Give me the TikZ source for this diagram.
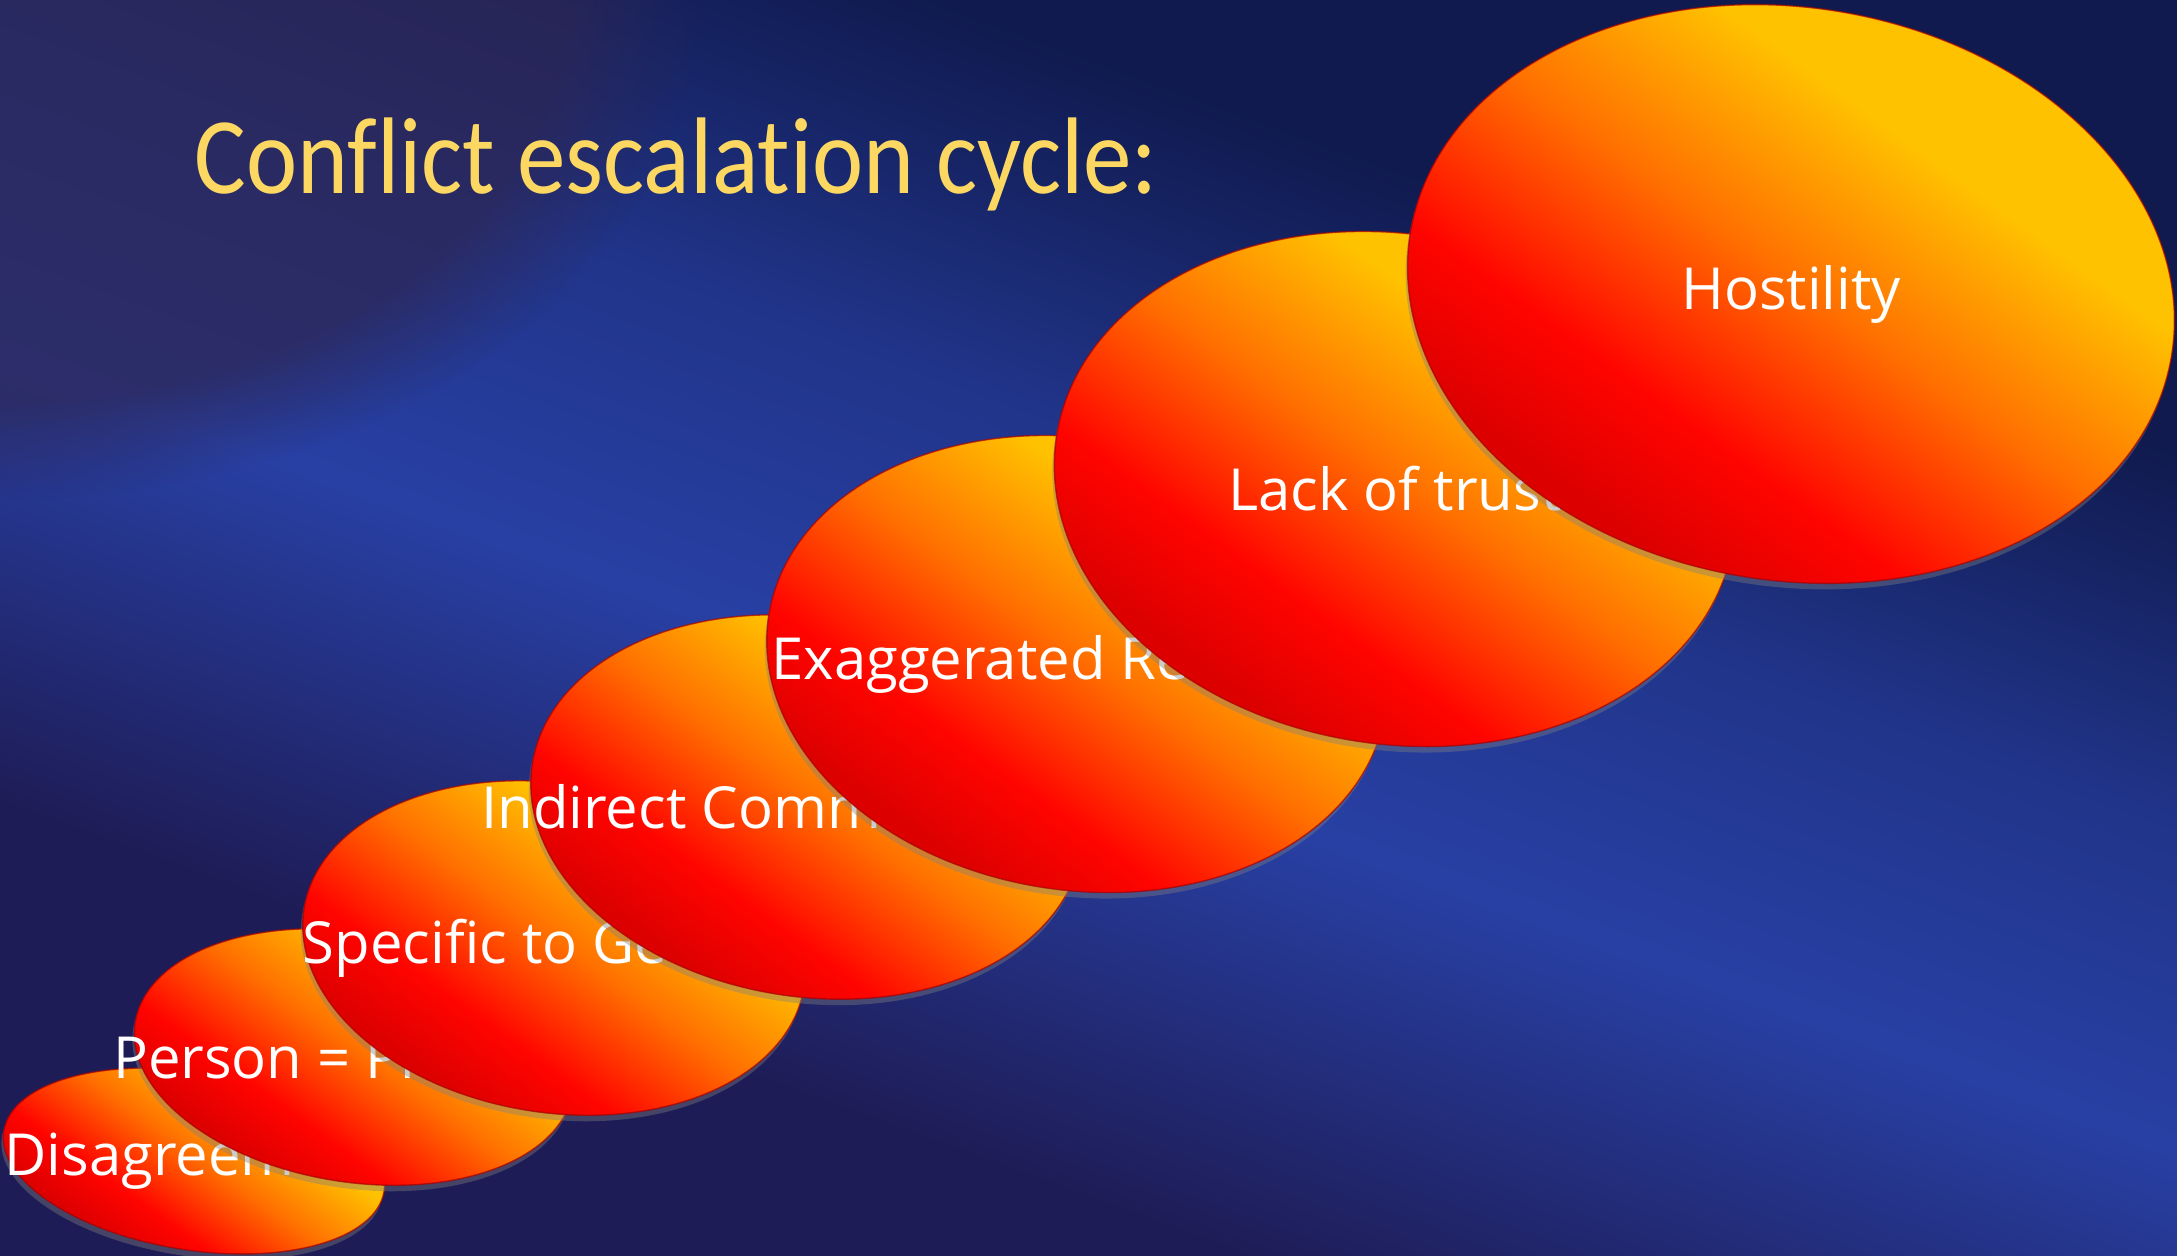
\documentclass[tikz,border=0pt]{standalone}
\usepackage{fontspec}
\setmainfont{Open Sans}
\newfontfamily\titlefont[Ligatures=NoCommon]{Carlito}
\usetikzlibrary{shapes.geometric,shadows,fadings}
\definecolor{bgtop}{HTML}{101A4E}
\definecolor{bgband}{HTML}{2840A4}
\definecolor{bglow}{HTML}{1E1C56}
\definecolor{bgpurple}{HTML}{2E2652}
\definecolor{stagedark}{HTML}{DC0000}
\definecolor{stagered}{HTML}{FF0400}
\definecolor{stageorange}{HTML}{FF7000}
\definecolor{stageyellow}{HTML}{FFC200}
\definecolor{stagerim}{HTML}{A80000}
\definecolor{titlegold}{HTML}{FCD862}
\pgfdeclareverticalshading{bgshade}{100bp}{color(0bp)=(bglow); color(32bp)=(bglow); color(46bp)=(bgband); color(56bp)=(bgband!70!bgtop); color(68bp)=(bgtop); color(100bp)=(bgtop)}
\pgfdeclareverticalshading{stageshade}{100bp}{color(0bp)=(stagedark); color(28bp)=(stagedark); color(37bp)=(stagered); color(50bp)=(stageorange); color(63bp)=(stageyellow); color(100bp)=(stageyellow)}

\begin{document}
\begin{tikzpicture}[
    stage/.style={ellipse, inner sep=0pt, shade, shading=stageshade, shading angle=-36,
      draw=stagerim, draw opacity=0.7, line width=0.4pt, rotate=-9,
      drop shadow={shadow xshift=-0.02cm, shadow yshift=-0.06cm, opacity=0.4}},
    stagetext/.style={text=white, inner sep=0pt, font=\fontsize{16.5}{20}\selectfont}]
  \useasboundingbox (0,0) rectangle (21.77,12.55);
  \shade[shading=bgshade, shading angle=-20] (0,0) rectangle (21.77,12.55);
  \fill[bgpurple, fill opacity=0.7, path fading=circle with fuzzy edge 20 percent] (0,12.55) ellipse (7 and 5);

  \node[anchor=base west, inner sep=0pt, text=titlegold, xscale=0.89, font=\titlefont\fontsize{31}{37}\selectfont] (title) at (1.94,10.61) {Conflict escalation cycle:};

  \node[stage, minimum width=3.85cm, minimum height=1.78cm] (e1) at (1.94,0.94) {};
  \node[stagetext] (t1) at (e1) {Disagreement};
  \node[stage, minimum width=4.43cm, minimum height=2.50cm] (e2) at (3.54,1.98) {};
  \node[stagetext] (t2) at (e2) {Person = Problem};
  \node[stage, minimum width=5.06cm, minimum height=3.29cm] (e3) at (5.54,3.07) {};
  \node[stagetext] (t3) at (e3) {Specific to General};
  \node[stage, minimum width=5.56cm, minimum height=3.79cm] (e4) at (8.07,4.48) {};
  \node[stagetext] (t4) at (e4) {Indirect Communication};
  \node[stage, minimum width=6.24cm, minimum height=4.52cm] (e5) at (10.77,5.91) {};
  \node[stagetext] (t5) at (e5) {Exaggerated Reactions};
  \node[stage, minimum width=6.85cm, minimum height=5.10cm] (e6) at (13.95,7.66) {};
  \node[stagetext] (t6) at (e6) {Lack of trust};
  \node[stage, minimum width=7.71cm, minimum height=5.73cm] (e7) at (17.91,9.61) {};
  \node[stagetext] (t7) at (e7) {Hostility};
\end{tikzpicture}
\end{document}
